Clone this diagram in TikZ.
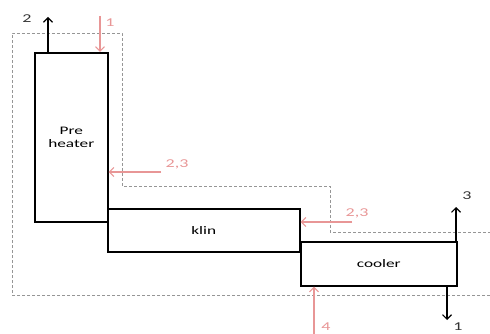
\documentclass[tikz,border=0pt]{standalone}
\usepackage{fontspec}
\setmainfont[FakeStretch=1.5]{Carlito}
\usetikzlibrary{arrows.meta}
\definecolor{pinkish}{RGB}{232,150,150}
\definecolor{dashgray}{RGB}{150,150,150}
\begin{document}
\begin{tikzpicture}[x=1pt,y=-1pt,
  unit/.style={draw=black,line width=1.6pt,fill=white,inner sep=0pt,font=\fontsize{11.5}{13}\selectfont,align=center},
  bound/.style={draw=dashgray,dashed,line width=0.8pt,dash pattern=on 3pt off 2pt},
  outflow/.style={draw=black,line width=1.1pt,-{Straight Barb[length=4.5pt,width=9pt]}},
  inflow/.style={draw=pinkish,line width=1.1pt,-{Straight Barb[length=4.5pt,width=9pt]}},
  blab/.style={font=\fontsize{12}{13}\selectfont,text=black!80},
  plab/.style={font=\fontsize{12}{13}\selectfont,text=pinkish}]
\useasboundingbox (0,0) rectangle (490,334);
% boundary
\draw[bound] (490,295) -- (12,295) -- (12,33) -- (122,33) -- (122,186) -- (330,186) -- (330,232) -- (490,232);
% units
\node[unit,minimum width=73pt,minimum height=169pt,anchor=north west] (pre) at (34,52) {Pre\\heater};
\node[unit,minimum width=192pt,minimum height=43pt,anchor=north west] (klin) at (107,208) {klin};
\node[unit,minimum width=156pt,minimum height=44pt,anchor=north west] (cool) at (300,241) {cooler};
% flows
\coordinate (o2) at (48,17);
\draw[outflow] (o2 |- pre.north) -- (o2);
\node[blab] (l2) at (27,19) {2};
\coordinate (i1) at (100,16);
\draw[inflow] (i1) -- (i1 |- pre.north);
\node[plab] (l1) at (110,23) {1};
\coordinate (i23a) at (161,172);
\draw[inflow] (i23a) -- (i23a -| pre.east);
\node[plab] (l23a) at (177,164) {2,3};
\coordinate (i23b) at (352,222);
\draw[inflow] (i23b) -- (i23b -| klin.east);
\node[plab] (l23b) at (357,213) {2,3};
\coordinate (o3) at (456,207);
\draw[outflow] (o3 |- cool.north) -- (o3);
\node[blab] (l3) at (467,196) {3};
\coordinate (o1) at (447,320);
\draw[outflow] (o1 |- cool.south) -- (o1);
\node[blab] (l1b) at (458,327) {1};
\coordinate (i4) at (314,334);
\draw[inflow] (i4) -- (i4 |- cool.south);
\node[plab] (l4) at (326,327) {4};
\end{tikzpicture}
\end{document}
